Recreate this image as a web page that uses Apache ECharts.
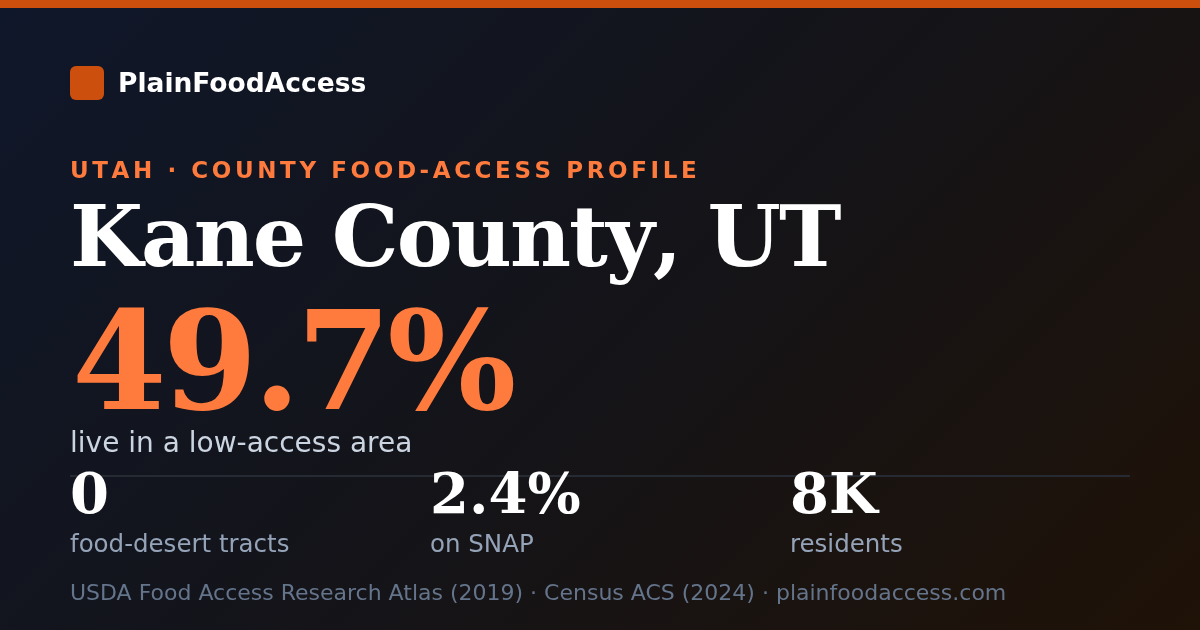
<!DOCTYPE html>
<html><head><meta charset="utf-8">
<script src="https://cdn.jsdelivr.net/npm/echarts@6/dist/echarts.min.js"></script>
<style>html,body{margin:0;padding:0;background:#111}#c{width:1200px;height:630px}</style>
</head><body><div id="c"></div>
<script>
var brand = 'PlainFoodAccess';
var eyebrow = 'UTAH · COUNTY FOOD-ACCESS PROFILE';
var countyName = 'Kane County, UT';
var headlineValue = '49.7%';
var headlineLabel = 'live in a low-access area';
var statValues = ['0', '2.4%', '8K'];
var statLabels = ['food-desert tracts', 'on SNAP', 'residents'];
var footer = 'USDA Food Access Research Atlas (2019) · Census ACS (2024) · plainfoodaccess.com';

var SANS = '"DejaVu Sans", sans-serif';
var SERIF = '"DejaVu Serif", serif';
var ctx = document.createElement('canvas').getContext('2d');
function fontStr(font, size, weight) { return weight + ' ' + size + 'px ' + font; }
function topFor(baseline, font, size, weight) {
  ctx.font = fontStr(font, size, weight);
  ctx.textBaseline = 'middle';
  var d = ctx.measureText('H').actualBoundingBoxDescent;
  return baseline - d - size / 2;
}
function spaced(str, x, baseline, font, size, weight, color, spacing) {
  var f = fontStr(font, size, weight);
  var y = topFor(baseline, font, size, weight);
  ctx.font = f;
  var out = [], cx = x;
  for (var i = 0; i < str.length; i++) {
    var ch = str[i];
    out.push({type: 'text', x: cx, y: y, style: {text: ch, font: f, fill: color}});
    cx += ctx.measureText(ch).width + spacing;
  }
  return out;
}
function txt(str, x, baseline, font, size, weight, color) {
  return {type: 'text', x: x, y: topFor(baseline, font, size, weight), style: {text: str, font: fontStr(font, size, weight), fill: color}};
}

var W = 1200, H = 630;
var half = (W + H) / (2 * Math.SQRT2) / Math.SQRT2;
var bg = new echarts.graphic.LinearGradient(W / 2 - half, H / 2 - half, W / 2 + half, H / 2 + half, [
  {offset: 0, color: '#0f172a'}, {offset: 0.5, color: '#141419'}, {offset: 1, color: '#1f1207'}
], true);

var els = [];
els.push({type: 'rect', z: -10, shape: {x: 0, y: 0, width: W, height: H}, style: {fill: bg}});
els.push({type: 'rect', shape: {x: 0, y: 0, width: W, height: 8}, style: {fill: '#cc4f0e'}});
els.push({type: 'rect', shape: {x: 70, y: 66, width: 34, height: 34, r: 6}, style: {fill: '#cc4f0e'}});
els.push(txt(brand, 118, 91.5, SANS, 26.5, 'bold', '#ffffff'));
els = els.concat(spaced(eyebrow, 70, 178, SANS, 23, 'bold', '#ff7a3d', 3.6));
els = els.concat(spaced(countyName, 70, 266, SERIF, 84, 'bold', '#ffffff', -1.9));
els = els.concat(spaced(headlineValue, 72, 409, SERIF, 136, 'bold', '#ff7a3d', -4));
els.push(txt(headlineLabel, 70, 452, SANS, 28, 'normal', '#cbd5e1'));
els.push({type: 'rect', shape: {x: 70, y: 475, width: 1060, height: 2}, style: {fill: '#262a33'}});
var colX = [70, 430, 790];
for (var i = 0; i < statValues.length; i++) {
  els.push(txt(statValues[i], colX[i], 513, SERIF, 56, 'bold', '#ffffff'));
  els.push(txt(statLabels[i], colX[i], 552, SANS, 24.5, 'normal', '#94a3b8'));
}
els.push(txt(footer, 70, 600, SANS, 22, 'normal', '#64748b'));

var chart = echarts.init(document.getElementById('c'));
chart.setOption({
  backgroundColor: '#141419',
  graphic: {elements: els}
});
</script></body></html>
